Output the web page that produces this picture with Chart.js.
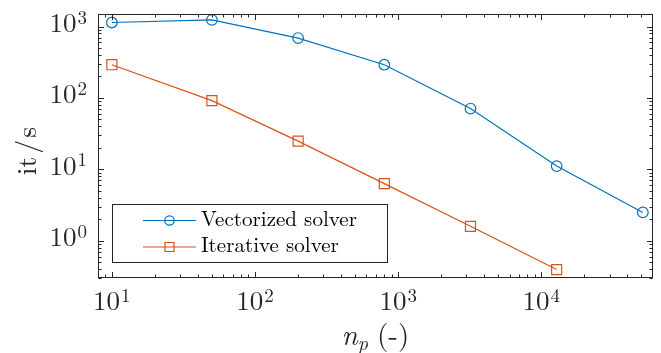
<!DOCTYPE html>
<html>
<head>
<meta charset="utf-8">
<script src="https://cdn.jsdelivr.net/npm/chart.js@4"></script>
<style>
    html, body { margin: 0; padding: 0; background: #ffffff; }
    #graficaRate { display: block; }
</style>
</head>
<body>
<canvas id="graficaRate" width="661" height="353"></canvas>
<script>
// Data:
const numParticles = [10, 50, 200, 800, 3200, 12800, 51200];
const vectorizedRate = [1140, 1240, 690, 292, 71, 11.1, 2.49];
const iterativeRate = [292, 91.6, 24.8, 6.3, 1.59, 0.394];
const seriesNames = ["Vectorized solver", "Iterative solver"];
const xMajorTicks = [10, 100, 1000, 10000];
const yMajorTicks = [1, 10, 100, 1000];
const xTickExp = ["1", "2", "3", "4"];
const yTickExp = ["0", "1", "2", "3"];

const blue = "#0072BD";
const orange = "#D95319";
const axisColor = "#262626";
const serif = "\"Latin Modern Roman\"";

// Build points {x, y}:
function toPoints(xs, ys)
{
    var points = [];
    for (let index = 0; index < ys.length; index++)
    {
        points.push({x: xs[index], y: ys[index]});
    }
    return points;
}

// Minor ticks 2..9 per decade inside range:
function minorTicks(min, max)
{
    var ticks = [];
    for (let exp = -2; exp <= 5; exp++)
    {
        for (let m = 2; m <= 9; m++)
        {
            const v = m * Math.pow(10, exp);
            if (v > min && v < max) ticks.push(v);
        }
    }
    return ticks;
}

// Font size so that text has the wanted width:
function fitSize(ctx, text, target, style)
{
    ctx.font = style + "20px " + serif;
    return 20 * target / ctx.measureText(text).width;
}

// Draw "10" with superscript:
function drawPower(ctx, exp, x, y, align)
{
    ctx.font = "27px " + serif;
    const wBase = ctx.measureText("10").width;
    ctx.font = "19px " + serif;
    const wSup = ctx.measureText(exp).width;
    const total = wBase + wSup + 1;
    var left = x;
    if (align == "right") left = x - total;
    if (align == "center") left = x - total / 2;

    ctx.textAlign = "left";
    ctx.textBaseline = "alphabetic";
    ctx.font = "27px " + serif;
    ctx.fillText("10", left, y);
    ctx.font = "19px " + serif;
    ctx.fillText(exp, left + wBase + 1, y - 8.5);
}

// Box, ticks, labels, legend:
const matlabAxes = {
    id: "matlabAxes",
    afterDraw: function (chart)
    {
        const ctx = chart.ctx;
        const area = chart.chartArea;
        const xs = chart.scales.x;
        const ys = chart.scales.y;
        const L = Math.round(area.left) + 0.5;
        const R = Math.round(area.right) - 0.5;
        const T = Math.round(area.top) + 0.5;
        const B = Math.round(area.bottom) - 0.5;

        ctx.save();
        ctx.strokeStyle = axisColor;
        ctx.lineWidth = 1;

        // Ticks:
        ctx.beginPath();
        const xMinor = minorTicks(xs.min, xs.max);
        xMajorTicks.concat(xMinor).forEach(function (v, i)
        {
            const len = i < xMajorTicks.length ? 5.5 : 3;
            const px = Math.round(xs.getPixelForValue(v)) + 0.5;
            ctx.moveTo(px, B); ctx.lineTo(px, B - len);
            ctx.moveTo(px, T); ctx.lineTo(px, T + len);
        });
        const yMinor = minorTicks(ys.min, ys.max);
        yMajorTicks.concat(yMinor).forEach(function (v, i)
        {
            const len = i < yMajorTicks.length ? 5.5 : 3;
            const py = Math.round(ys.getPixelForValue(v)) + 0.5;
            ctx.moveTo(L, py); ctx.lineTo(L + len, py);
            ctx.moveTo(R, py); ctx.lineTo(R - len, py);
        });
        ctx.stroke();

        // Box:
        ctx.strokeRect(L, T, R - L, B - T);

        // Tick labels:
        ctx.fillStyle = axisColor;
        xMajorTicks.forEach(function (v, i)
        {
            drawPower(ctx, xTickExp[i], xs.getPixelForValue(v), area.bottom + 32, "center");
        });
        yMajorTicks.forEach(function (v, i)
        {
            drawPower(ctx, yTickExp[i], area.left - 11, ys.getPixelForValue(v) + 5.5, "right");
        });

        // X title n_p (-):
        ctx.font = "italic 29px " + serif;
        const wN = ctx.measureText("n").width;
        ctx.font = "italic 20px " + serif;
        const wP = ctx.measureText("p").width;
        ctx.font = "29px " + serif;
        const wRest = ctx.measureText("(-)").width;
        const gap = 9;
        var tx = (area.left + area.right) / 2 - (wN + wP + gap + wRest) / 2;
        ctx.textAlign = "left";
        ctx.textBaseline = "alphabetic";
        ctx.font = "italic 29px " + serif;
        ctx.fillText("n", tx, 345);
        ctx.font = "italic 20px " + serif;
        ctx.fillText("p", tx + wN, 350);
        ctx.font = "29px " + serif;
        ctx.fillText("(-)", tx + wN + wP + gap, 345);

        // Y title it/s, pieces with math spacing round the slash:
        ctx.save();
        ctx.translate(36, 151);
        ctx.rotate(-Math.PI / 2);
        ctx.font = "28px " + serif;
        const parts = ["it", "/", "s"];
        const gaps = [3, 2, 0];
        var widths = parts.map(function (p) { return ctx.measureText(p).width; });
        var totalW = widths[0] + widths[1] + widths[2] + gaps[0] + gaps[1];
        var px = -totalW / 2;
        ctx.textAlign = "left";
        for (let index = 0; index < parts.length; index++)
        {
            ctx.fillText(parts[index], px, 0);
            px += widths[index] + gaps[index];
        }
        ctx.restore();

        // Legend:
        ctx.fillStyle = "#ffffff";
        ctx.fillRect(112.5, 204.5, 275, 58);
        ctx.strokeStyle = axisColor;
        ctx.strokeRect(112.5, 204.5, 275, 58);
        const rows = [220.5, 247];
        const colors = [blue, orange];
        const legendSize = fitSize(ctx, seriesNames[0], 156, "");
        for (let index = 0; index < rows.length; index++)
        {
            const y = rows[index];
            ctx.strokeStyle = colors[index];
            ctx.lineWidth = 1.2;
            ctx.beginPath();
            ctx.moveTo(143, y); ctx.lineTo(196, y);
            ctx.stroke();
            ctx.beginPath();
            if (index == 0) ctx.arc(169.5, y, 4.7, 0, Math.PI * 2);
            else ctx.rect(165, y - 4.5, 9, 9);
            ctx.stroke();

            ctx.fillStyle = "#000000";
            ctx.font = legendSize + "px " + serif;
            ctx.textAlign = "left";
            ctx.textBaseline = "alphabetic";
            ctx.fillText(seriesNames[index], 201, y + 5);
        }
        ctx.restore();
    }
};

// Draw chart:
function drawChart()
{
    const ctx = document.getElementById("graficaRate").getContext("2d");
    const rateChart = new Chart(ctx,
    {
        type: "line",
        data: {
            datasets: [
                {
                    label: seriesNames[0],
                    data: toPoints(numParticles, vectorizedRate),
                    borderColor: blue,
                    borderWidth: 1.2,
                    pointStyle: "circle",
                    pointRadius: 5.3,
                    pointBorderWidth: 1.2,
                    pointBorderColor: blue,
                    pointBackgroundColor: "rgba(0,0,0,0)",
                    tension: 0
                },
                {
                    label: seriesNames[1],
                    data: toPoints(numParticles, iterativeRate),
                    borderColor: orange,
                    borderWidth: 1.2,
                    pointStyle: "rect",
                    pointRadius: 7.1,
                    pointBorderWidth: 1.2,
                    pointBorderColor: orange,
                    pointBackgroundColor: "rgba(0,0,0,0)",
                    tension: 0
                }
            ]
        },
        options: {
            responsive: false,
            animation: false,
            layout: {
                padding: {left: 98, right: 4, top: 14, bottom: 75}
            },
            plugins: {
                legend: {display: false},
                tooltip: {enabled: false}
            },
            scales: {
                x: {type: "logarithmic", min: 8, max: 60000, display: false},
                y: {type: "logarithmic", min: 0.31, max: 1500, display: false}
            }
        },
        plugins: [matlabAxes]
    });
}

drawChart();
</script>
</body>
</html>
